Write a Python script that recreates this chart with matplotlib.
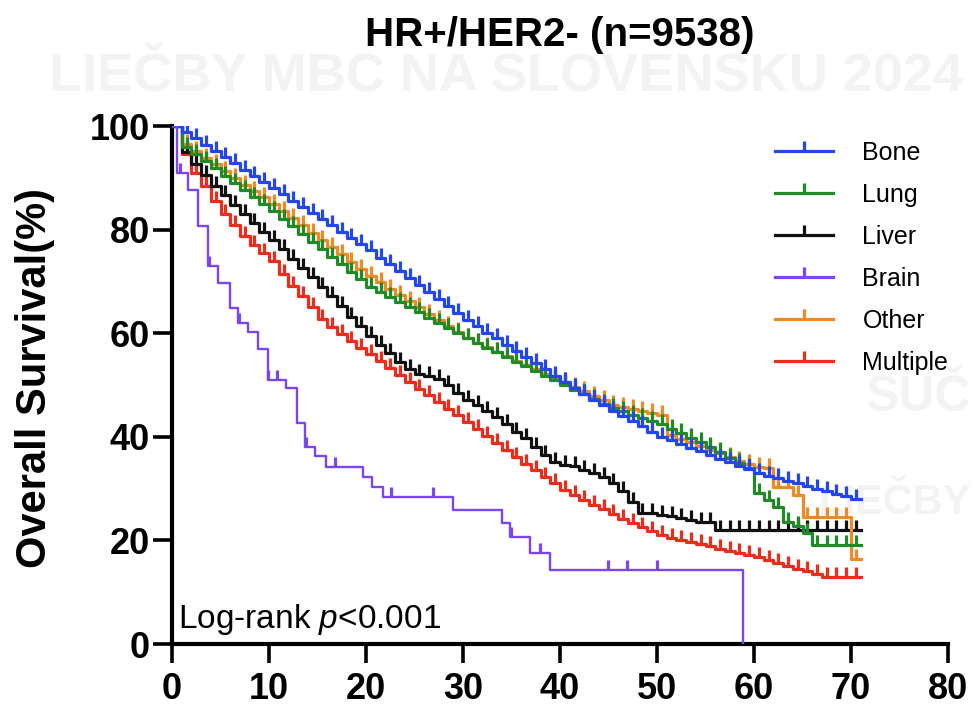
# Kaplan-Meier style overall survival curves by metastatic site (HR+/HER2-)

import numpy as np
import matplotlib
matplotlib.use("Agg")
import matplotlib.pyplot as plt
from matplotlib.lines import Line2D

plt.rcParams['font.family'] = ['Liberation Sans', 'DejaVu Sans']
plt.rcParams['mathtext.fontset'] = 'custom'
plt.rcParams['mathtext.it'] = 'Liberation Sans:italic'
plt.rcParams['mathtext.rm'] = 'Liberation Sans'

# month index for the monthly step curves (level on [t, t+1))
months = np.arange(0, 72)

bone = [100, 98.8, 97.6, 96.4, 95.2, 94.0, 92.8, 91.6, 90.4, 89.2,
        88.0, 86.8, 85.6, 84.4, 83.2, 82.0, 80.8, 79.6, 78.4, 77.2,
        76.0, 74.6, 73.3, 72.0, 70.6, 69.3, 67.9, 66.6, 65.2, 63.9,
        62.5, 61.3, 60.1, 59.0, 57.8, 56.6, 55.4, 54.2, 53.0, 51.8,
        50.5, 49.4, 48.3, 47.2, 46.1, 45.0, 44.0, 43.0, 42.0, 41.0,
        40.0, 39.3, 38.6, 37.9, 37.2, 36.5, 35.8, 35.1, 34.4, 33.7,
        33.0, 32.5, 32.0, 31.5, 31.0, 30.5, 30.0, 29.5, 29.0, 28.5,
        28.0, 28.0]

lung = [100, 96.0, 94.6, 93.2, 91.8, 90.4, 89.0, 87.6, 86.2, 84.9,
        83.5, 82.0, 80.6, 79.1, 77.7, 76.2, 74.8, 73.3, 71.9, 70.4,
        69.0, 68.0, 67.0, 66.0, 65.0, 64.0, 63.0, 62.0, 61.0, 60.0,
        59.0, 58.1, 57.2, 56.3, 55.4, 54.5, 53.6, 52.7, 51.8, 50.9,
        50.0, 49.1, 48.2, 47.3, 46.4, 45.5, 44.9, 44.3, 43.7, 43.1,
        42.5, 41.6, 40.7, 39.8, 38.9, 38.0, 37.0, 36.0, 35.0, 34.0,
        29.1, 27.8, 26.5, 23.6, 22.7, 21.4, 19.1, 19.1, 19.1, 19.1,
        19.1, 19.1]

liver = [100, 95.0, 92.6, 90.6, 88.5, 86.6, 84.7, 83.0, 81.2, 79.6,
         78.0, 76.2, 74.4, 72.6, 70.8, 69.0, 67.2, 65.2, 63.2, 61.3,
         59.5, 57.8, 56.2, 54.5, 53.0, 52.2, 51.8, 51.2, 50.0, 48.5,
         47.2, 46.1, 45.0, 43.9, 42.5, 41.0, 39.8, 38.0, 36.4, 35.2,
         34.6, 34.4, 33.6, 33.0, 32.2, 31.0, 29.5, 27.5, 25.2, 25.2,
         25.0, 24.8, 24.4, 24.0, 23.6, 23.6, 22.0, 22.0, 22.0, 22.0,
         22.0, 22.0, 22.0, 22.0, 22.0, 22.0, 22.0, 22.0, 22.0, 22.0,
         22.0, 22.0]

other = [100, 96.5, 95.2, 93.9, 92.6, 91.3, 90.0, 88.7, 87.4, 86.2,
         85.0, 83.6, 82.2, 80.8, 79.4, 78.0, 76.6, 75.2, 73.8, 72.4,
         71.0, 69.8, 68.6, 67.4, 66.2, 65.0, 63.8, 62.6, 61.4, 60.2,
         59.0, 58.1, 57.3, 56.4, 55.6, 54.7, 53.9, 53.0, 52.2, 51.3,
         50.5, 49.6, 48.8, 47.9, 47.1, 46.2, 45.8, 45.4, 45.0, 44.6,
         44.2, 40.3, 39.6, 38.9, 38.2, 37.5, 36.8, 36.1, 35.4, 34.7,
         34.2, 34.0, 30.4, 30.4, 28.8, 24.5, 24.5, 24.5, 24.5, 24.5,
         16.5, 16.5]

multiple = [100, 94.5, 91.0, 88.5, 85.5, 83.0, 80.8, 78.8, 77.0, 75.4,
            74.0, 71.5, 69.2, 67.2, 65.0, 62.8, 61.2, 59.8, 58.4, 57.2,
            56.0, 54.6, 53.3, 52.0, 50.6, 49.3, 48.0, 46.7, 45.4, 44.2,
            42.9, 41.5, 40.1, 38.8, 37.4, 36.1, 34.8, 33.5, 32.2, 31.0,
            29.7, 28.7, 27.8, 26.9, 26.0, 25.1, 24.2, 23.4, 22.6, 21.8,
            21.0, 20.5, 20.1, 19.7, 19.3, 18.9, 18.4, 18.0, 17.6, 17.2,
            16.8, 16.2, 15.6, 15.0, 14.5, 14.0, 13.5, 13.0, 13.0, 13.0,
            13.0, 13.0]

# brain: step change times and levels, plus censor times
brain_t = [0, 0.5, 1.7, 2.7, 3.7, 4.7, 6.0, 6.8, 7.8, 8.9, 9.9, 11.8, 12.9,
           13.7, 14.7, 15.9, 19.7, 20.6, 21.8, 29.0, 34.0, 34.8, 36.9,
           39.0, 58.9]
brain_s = [100, 91, 87.6, 80.6, 73, 69.7, 64.9, 62, 60.3, 57, 51, 49.4,
           42.6, 38.1, 36.2, 34.2, 32.3, 30.4, 28.4, 25.9, 23.4, 20.7,
           17.5, 14.3, 0]
brain_cens = [0.8, 3.8, 6.9, 9.9, 10.8, 13.8, 16.8, 22.6, 26.9, 34.9,
              37.9, 44.9, 46.9, 50.0]

labels = ["Bone", "Lung", "Liver", "Brain", "Other", "Multiple"]
colors = {"Bone": "#2346f0", "Lung": "#1f8a26", "Liver": "#111111",
          "Brain": "#7b45f2", "Other": "#f08a24", "Multiple": "#ee2c1c"}

fig = plt.figure(figsize=(9.73, 7.12), dpi=100)

# faint watermark behind the chart
wm = "#f3f3f3"
fig.text(0.52, 1 - 78 / 712, "LIEČBY MBC NA SLOVENSKU 2024", color=wm,
         fontsize=39, fontweight='bold', ha='center', va='center', zorder=-1)
fig.text(0.998, 1 - 398 / 712, "SUČ", color=wm, fontsize=36,
         fontweight='bold', ha='right', va='center', zorder=-1)
fig.text(0.998, 1 - 503 / 712, "LIEČBY", color=wm, fontsize=30,
         fontweight='bold', ha='right', va='center', zorder=-1)

ax = fig.add_axes([172 / 973, 68 / 712, 776 / 973, 518 / 712])
ax.patch.set_alpha(0)

lw = 2.3
curves = {"Bone": bone, "Lung": lung, "Liver": liver,
          "Other": other, "Multiple": multiple}
draw_order = ["Multiple", "Liver", "Other", "Lung", "Bone"]
for name in draw_order:
    vals = np.array(curves[name])
    c = colors[name]
    ax.step(months, vals, where='post', color=c, lw=lw, zorder=3)
    ax.plot(months[:-1] + 0.5, vals[:-1], ls='none', marker=2,
            markersize=7, mew=2.3, color=c, zorder=3)

bt = np.array(brain_t)
bs = np.array(brain_s)
ax.step(bt, bs, where='post', color=colors["Brain"], lw=1.7, zorder=3)
bc = np.array(brain_cens)
bc_lvl = bs[np.searchsorted(bt, bc, side='right') - 1]
ax.plot(bc, bc_lvl, ls='none', marker=2, markersize=7, mew=2.3,
        color=colors["Brain"], zorder=3)

ax.set_xlim(0, 80)
ax.set_ylim(0, 100)
ax.set_xticks(range(0, 81, 10))
ax.set_yticks(range(0, 101, 20))
for side in ['top', 'right']:
    ax.spines[side].set_visible(False)
for side in ['left', 'bottom']:
    ax.spines[side].set_linewidth(3)
ax.tick_params(axis='both', length=14, width=2.6, labelsize=26)
ax.tick_params(axis='x', pad=6)
ax.tick_params(axis='y', pad=2)
for lab in ax.get_xticklabels() + ax.get_yticklabels():
    lab.set_fontweight('bold')

fig.text(35 / 973, 1 - 378 / 712, "Overall Survival(%)", rotation=90,
         fontsize=30, fontweight='bold', ha='center', va='center')
fig.text(560 / 973, 1 - 35 / 712, "HR+/HER2- (n=9538)", fontsize=29,
         fontweight='bold', ha='center', va='center')

ax.text(0.6, 3.1, r"Log-rank $\it{p}$<0.001", fontsize=24, ha='left',
        va='baseline', zorder=4)

handles = [Line2D([0], [0], color=colors[n], lw=2.3, marker=2,
                  markersize=7, mew=2.3) for n in labels]
ax.legend(handles, labels, loc='upper left', frameon=False, fontsize=18,
          bbox_to_anchor=(775 / 973, 1 - 141 / 712),
          bbox_transform=fig.transFigure, borderpad=0, borderaxespad=0,
          handlelength=2.3, handletextpad=1.2, labelspacing=0.72,
          numpoints=1)

fig.savefig("out.png", dpi=100)
